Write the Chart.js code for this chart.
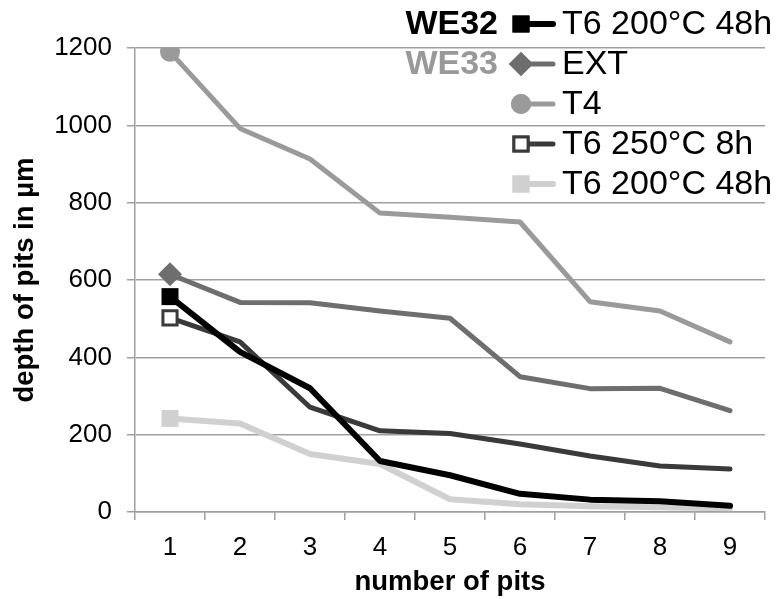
<!DOCTYPE html>
<html>
<head>
<meta charset="utf-8">
<script src="https://cdn.jsdelivr.net/npm/chart.js@4"></script>
<style>
  html, body { margin: 0; padding: 0; background: #fff; }
  #c { display: block; }
</style>
</head>
<body>
<canvas id="c" width="778" height="599"></canvas>
<script>
// ---- data ----
const categories = ['1', '2', '3', '4', '5', '6', '7', '8', '9'];
const we32_t6_200_48h = [557, 414, 320, 132, 95, 47, 32, 28, 16];
const we33_ext        = [615, 542, 541, 520, 501, 350, 319, 320, 262];
const we33_t4         = [1190, 992, 913, 773, 762, 750, 544, 520, 440];
const we33_t6_250_8h  = [502, 440, 271, 210, 203, 176, 145, 119, 111];
const we33_t6_200_48h = [242, 229, 150, 124, 33, 20, 15, 12, 10];
const groupLabels  = ['WE32', 'WE33', '', '', ''];
const seriesLabels = ['T6 200°C 48h', 'EXT', 'T4', 'T6 250°C 8h', 'T6 200°C 48h'];
const yTicks = [0, 200, 400, 600, 800, 1000, 1200];

const FONT = "'Liberation Sans', Arial, Helvetica, sans-serif";
const GRID = '#a0a0a0';

function firstOnly(r) { return ctx => ctx.dataIndex === 0 ? r : 0; }

const styles = [
  { color: '#000000', width: 6, style: 'rect',    r: 12, fill: '#000000', bw: 0, groupColor: '#000000' },
  { color: '#6e6e6e', width: 5, style: 'rectRot', r: 12, fill: '#6e6e6e', bw: 0, groupColor: '#999999' },
  { color: '#9a9a9a', width: 5, style: 'circle',  r: 10, fill: '#9a9a9a', bw: 0 },
  { color: '#3a3a3a', width: 5, style: 'rect',    r: 10, fill: '#ffffff', bw: 3 },
  { color: '#d0d0d0', width: 6, style: 'rect',    r: 12, fill: '#d0d0d0', bw: 0 }
];
const seriesData = [we32_t6_200_48h, we33_ext, we33_t4, we33_t6_250_8h, we33_t6_200_48h];

const datasets = seriesData.map((d, i) => ({
  label: seriesLabels[i],
  data: d,
  borderColor: styles[i].color,
  borderWidth: styles[i].width,
  borderJoinStyle: 'round',
  borderCapStyle: 'round',
  tension: 0,
  pointStyle: styles[i].style,
  pointRadius: firstOnly(styles[i].r),
  pointHoverRadius: firstOnly(styles[i].r),
  pointBackgroundColor: styles[i].fill,
  pointBorderColor: styles[i].bw ? styles[i].color : styles[i].fill,
  pointBorderWidth: styles[i].bw
}));

const legendPlugin = {
  id: 'groupLegend',
  afterDraw(chart) {
    const ctx = chart.ctx;
    ctx.save();
    for (let i = 0; i < seriesLabels.length; i++) {
      const y = 24 + 40 * i;
      const s = styles[i];
      if (groupLabels[i]) {
        ctx.font = 'bold 34px ' + FONT;
        ctx.fillStyle = s.groupColor;
        ctx.textAlign = 'right';
        ctx.textBaseline = 'middle';
        ctx.fillText(groupLabels[i], 498, y + 1);
      }
      ctx.beginPath();
      ctx.strokeStyle = s.color;
      ctx.lineWidth = s.width;
      ctx.lineCap = 'round';
      ctx.moveTo(522, y);
      ctx.lineTo(553, y);
      ctx.stroke();
      ctx.fillStyle = s.fill;
      ctx.strokeStyle = s.bw ? s.color : s.fill;
      ctx.lineWidth = s.bw;
      Chart.helpers.drawPoint(ctx, { pointStyle: s.style, radius: s.r, borderWidth: s.bw, rotation: 0 }, 521, y);
      ctx.fill();
      if (s.bw) ctx.stroke();
      ctx.font = '34px ' + FONT;
      ctx.fillStyle = '#000';
      ctx.textAlign = 'left';
      ctx.textBaseline = 'middle';
      ctx.fillText(seriesLabels[i], 562, y + 1);
    }
    ctx.restore();
  }
};

new Chart(document.getElementById('c'), {
  type: 'line',
  data: { labels: categories, datasets },
  options: {
    responsive: false,
    devicePixelRatio: 1,
    animation: false,
    layout: { padding: { top: 48, right: 1, bottom: 0, left: 0 } },
    plugins: { legend: { display: false }, tooltip: { enabled: false } },
    scales: {
      x: {
        type: 'category',
        offset: true,
        afterFit: axis => { axis.height = 87; },
        grid: { display: true, drawOnChartArea: false, drawTicks: true, tickLength: 8, offset: true, color: GRID, lineWidth: 1.5 },
        border: { display: true, color: GRID, width: 1.5 },
        ticks: { color: '#000', font: { family: FONT, size: 26 }, padding: 12 },
        title: { display: true, text: 'number of pits', color: '#000', font: { family: FONT, size: 27.5, weight: 'bold' }, padding: { top: 5, bottom: 0 } }
      },
      y: {
        min: 0,
        max: 1200,
        afterBuildTicks: axis => { axis.ticks = yTicks.map(v => ({ value: v })); },
        afterFit: axis => { axis.width = 135; },
        grid: { color: GRID, lineWidth: 1.5, tickLength: 8, drawTicks: true },
        border: { display: true, color: GRID, width: 1.5 },
        ticks: { color: '#000', font: { family: FONT, size: 26 }, padding: 15, callback: v => String(v) },
        title: { display: true, text: 'depth of pits in µm', color: '#000', font: { family: FONT, size: 27.5, weight: 'bold' }, padding: { top: 9, bottom: 0 } }
      }
    }
  },
  plugins: [legendPlugin]
});
</script>
</body>
</html>
